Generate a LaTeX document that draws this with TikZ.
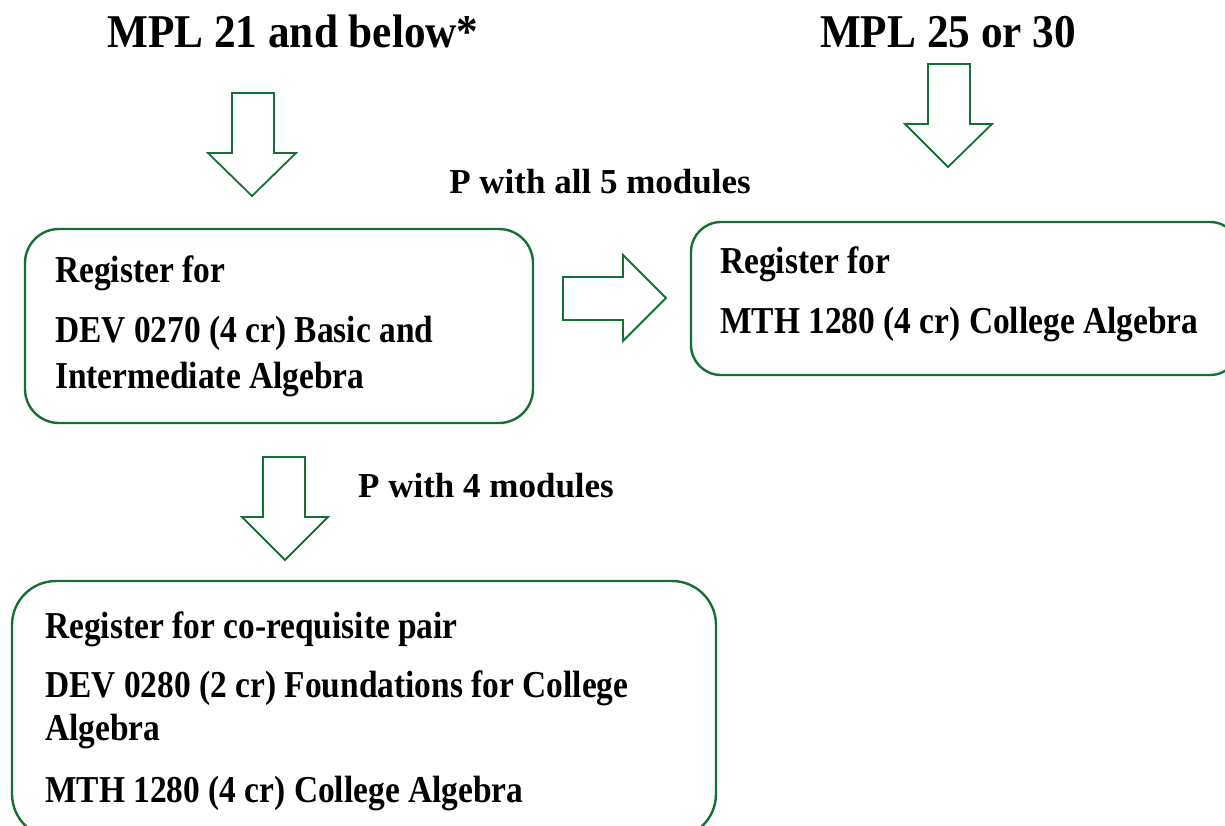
\documentclass[tikz,border=0pt]{standalone}
\usepackage{fontspec}
\setmainfont{Liberation Serif}
\newfontfamily\titlefont[FakeStretch=0.92]{Liberation Serif}
\newfontfamily\boxfont[FakeStretch=0.88]{Liberation Serif}
\definecolor{grn}{RGB}{20,112,52}
\tikzset{
  blockarrow/.style={draw=grn, line width=1.8pt, line join=miter},
  flowbox/.style={draw=grn, line width=2.4pt},
  titletext/.style={anchor=base, inner sep=0pt, font=\titlefont\bfseries\fontsize{47}{50}\selectfont},
  labeltext/.style={anchor=base, inner sep=0pt, font=\bfseries\fontsize{35}{38}\selectfont},
  boxtext/.style={anchor=base west, inner sep=0pt, font=\boxfont\bfseries\fontsize{38}{40}\selectfont},
}
\begin{document}
\begin{tikzpicture}[x=1pt,y=-1pt]
\useasboundingbox (0,0) rectangle (1225,826);
\clip (0,0) rectangle (1225,826);
% titles
\node[titletext] (t1) at (293,48) {MPL 21 and below*};
\node[titletext] (t2) at (948,48) {MPL 25 or 30};
% down arrows
\draw[blockarrow] (232,93) -- (274,93) -- (274,153) -- (296,153) -- (252,196) -- (208,153) -- (232,153) -- cycle;
\draw[blockarrow] (928,64) -- (970,64) -- (970,124) -- (992,124) -- (948,167) -- (905,124) -- (928,124) -- cycle;
\draw[blockarrow] (263,457) -- (305,457) -- (305,517) -- (328,517) -- (285,560) -- (242,517) -- (263,517) -- cycle;
% right arrow
\draw[blockarrow] (563,277) -- (623,277) -- (623,255) -- (666,298) -- (623,341) -- (623,320) -- (563,320) -- cycle;
% labels
\node[labeltext] (l1) at (600,194) {P with all 5 modules};
\node[labeltext] (l2) at (486,497) {P with 4 modules};
% boxes
\draw[flowbox, rounded corners=34pt] (25,229) rectangle (533,423);
\draw[flowbox, rounded corners=30pt] (691,222) rectangle (1240,375);
\draw[flowbox, rounded corners=44pt] (12,581) rectangle (716,838);
% box 1 text
\node[boxtext] (b1a) at (55,282) {Register for};
\node[boxtext] (b1b) at (55,342) {DEV 0270 (4 cr) Basic and};
\node[boxtext] (b1c) at (55,388) {Intermediate Algebra};
% box 2 text
\node[boxtext] (b2a) at (720,273) {Register for};
\node[boxtext] (b2b) at (720,333) {MTH 1280 (4 cr) College Algebra};
% box 3 text
\node[boxtext] (b3a) at (45,638) {Register for co-requisite pair};
\node[boxtext] (b3b) at (45,697) {DEV 0280 (2 cr) Foundations for College};
\node[boxtext] (b3c) at (45,740) {Algebra};
\node[boxtext] (b3d) at (45,802) {MTH 1280 (4 cr) College Algebra};
\end{tikzpicture}
\end{document}
